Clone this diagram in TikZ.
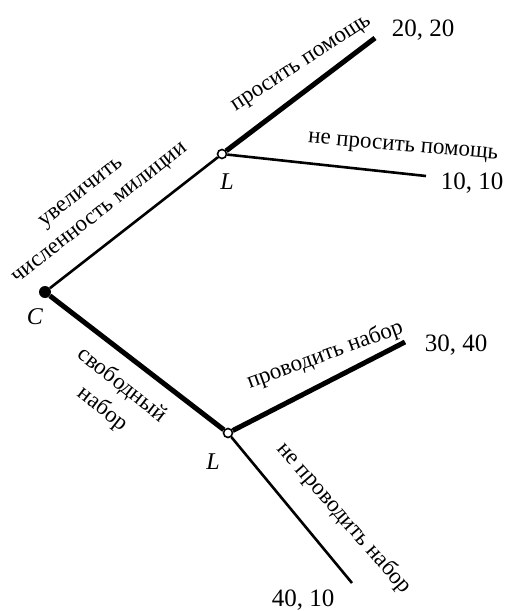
\documentclass[tikz,border=0pt]{standalone}
\usepackage{fontspec}
\setmainfont{Liberation Serif}
\begin{document}
\begin{tikzpicture}[x=1pt,y=-1pt,
  thinedge/.style={line width=2.6pt},
  thickedge/.style={line width=5pt},
  lbl/.style={font=\fontsize{23}{26}\selectfont, inner sep=0pt},
  payoff/.style={font=\fontsize{25}{27}\selectfont, inner sep=0pt},
  player/.style={font=\fontsize{24}{26}\selectfont\itshape, inner sep=0pt},
  chance/.style={circle, fill=black, inner sep=0pt, minimum size=12pt},
  decision/.style={circle, draw=black, fill=white, line width=1.6pt, inner sep=0pt, minimum size=9pt}
]
\useasboundingbox (0,0) rectangle (507,611);

% decision points
\node[chance] (C) at (45,292) {};
\node[decision] (L1) at (222,154) {};
\node[decision] (L2) at (228,433) {};

% terminal points
\coordinate (E1) at (375,38);
\coordinate (E2) at (426,176);
\coordinate (E3) at (405,342);
\coordinate (E4) at (352,583);

% branches
\draw[thinedge] (C) -- (L1);
\draw[thickedge] (C) -- (L2);
\draw[thickedge] (L1) -- (E1);
\draw[thinedge] (L1) -- (E2);
\draw[thickedge] (L2) -- (E3);
\draw[thinedge] (L2) -- (E4);

% player labels
\node[player] (tC) at (35,317) {C};
\node[player] (tL1) at (227,182) {L};
\node[player] (tL2) at (213,462) {L};

% action labels
\node[lbl, rotate=38] (a1) at (82,194) {увеличить};
\node[lbl, rotate=38] (a2) at (101,214) {численность милиции};
\node[lbl, rotate=-38] (b1) at (122,385) {свободный};
\node[lbl, rotate=-38] (b2) at (103,409) {набор};
\node[lbl, rotate=33] (c1) at (302,65) {просить помощь};
\node[lbl, rotate=-5] (c2) at (403,148) {не просить помощь};
\node[lbl, rotate=20] (d1) at (325,355) {проводить набор};
\node[lbl, rotate=-49] (d2) at (344,518) {не проводить набор};

% payoffs
\node[payoff] (p1) at (423,30) {20, 20};
\node[payoff] (p2) at (472,183) {10, 10};
\node[payoff] (p3) at (456,345) {30, 40};
\node[payoff] (p4) at (303,600) {40, 10};
\end{tikzpicture}
\end{document}
